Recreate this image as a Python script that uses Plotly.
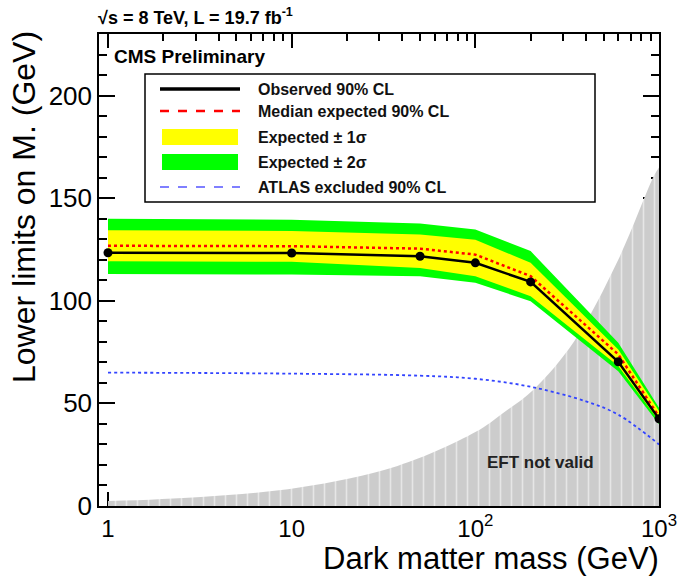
import plotly.graph_objects as go

# ---------------- data ----------------
mass = [1, 10, 50, 100, 200, 600, 1000]
observed = [123.4, 123.3, 121.7, 118.5, 109.2, 70.3, 42.5]
expected = [126.8, 126.6, 125.4, 122.5, 112.0, 73.9, 43.5]
exp_1s_up = [134.4, 134.0, 132.3, 129.8, 118.5, 76.3, 46.3]
exp_1s_down = [119.3, 119.0, 116.0, 112.0, 102.2, 68.2, 41.4]
exp_2s_up = [140.0, 139.5, 137.6, 134.7, 124.2, 79.5, 47.9]
exp_2s_down = [113.1, 112.8, 112.0, 108.8, 99.8, 65.7, 39.8]

atlas_mass = [1, 10, 50, 100, 200, 400, 600, 1000]
atlas_limit = [65.0, 64.5, 63.5, 62.0, 58.1, 51.0, 44.5, 30.0]

eft_mass = [1, 3.2, 11, 37.7, 100, 143, 208, 344, 600, 940, 1000]
eft_limit = [2.4, 4.4, 9.0, 19.5, 36.0, 45.6, 56.8, 80.0, 120.0, 161.0, 165.0]

x_tickvals = [1, 10, 100, 1000]
x_ticktext = ["1", "10", "10<sup>2</sup>", "10<sup>3</sup>"]
x_minor = [d * k for d in (1, 10, 100) for k in range(2, 10)]

legend_labels = ["Observed 90% CL", "Median expected 90% CL",
                 "Expected \u00b1 1\u03c3", "Expected \u00b1 2\u03c3",
                 "ATLAS excluded 90% CL"]

FONT = "Liberation Sans, Arial, sans-serif"

fig = go.Figure()

# EFT not valid region (hatched grey)
fig.add_trace(go.Scatter(
    x=eft_mass, y=eft_limit, mode="lines", line=dict(width=0, shape="spline"),
    fill="tozeroy", fillcolor="#cccccc",
    fillpattern=dict(shape="|", bgcolor="#cccccc", fgcolor="white",
                     size=11, solidity=0.15),
    showlegend=False, hoverinfo="skip"))

# 2 sigma band
fig.add_trace(go.Scatter(
    x=mass + mass[::-1], y=exp_2s_up + exp_2s_down[::-1],
    mode="lines", line=dict(width=0), fill="toself", fillcolor="#00ff00",
    showlegend=False, hoverinfo="skip"))
# 1 sigma band
fig.add_trace(go.Scatter(
    x=mass + mass[::-1], y=exp_1s_up + exp_1s_down[::-1],
    mode="lines", line=dict(width=0), fill="toself", fillcolor="#ffff00",
    showlegend=False, hoverinfo="skip"))

# ATLAS
fig.add_trace(go.Scatter(
    x=atlas_mass, y=atlas_limit, mode="lines",
    line=dict(color="#3344ff", width=1.8, dash="dot", shape="spline"),
    showlegend=False))

# expected
fig.add_trace(go.Scatter(
    x=mass, y=expected, mode="lines",
    line=dict(color="#ff0000", width=2.5, dash="dot"),
    showlegend=False))

# observed
fig.add_trace(go.Scatter(
    x=mass, y=observed, mode="lines+markers",
    line=dict(color="black", width=2.5),
    marker=dict(color="black", size=9),
    showlegend=False))

# ---------------- layout ----------------
L, R, T, B = 99, 21, 34, 71
W, H = 680, 577
pw, ph = W - L - R, H - T - B


def px(xp):
    return (xp - L) / pw


def py(yp):
    return (H - B - yp) / ph


fig.update_layout(
    width=W, height=H,
    margin=dict(l=L, r=R, t=T, b=B, autoexpand=False),
    paper_bgcolor="white", plot_bgcolor="white",
    font=dict(family=FONT, color="black"),
    xaxis=dict(
        type="log", range=[-0.049, 3.0], automargin=False,
        tickmode="array", tickvals=x_tickvals, ticktext=x_ticktext,
        ticks="inside", ticklen=14, tickwidth=1.5, tickcolor="black",
        showline=True, linecolor="black", linewidth=1.5, mirror="allticks",
        showgrid=False, zeroline=False,
        tickfont=dict(size=24, family=FONT),
        minor=dict(tickmode="array", tickvals=x_minor, ticks="inside",
                   ticklen=7, tickwidth=1.5, tickcolor="black", showgrid=False),
        layer="below traces",
    ),
    yaxis=dict(
        range=[0, 230], tickmode="linear", tick0=0, dtick=50, automargin=False,
        ticks="inside", ticklen=16, tickwidth=1.5, tickcolor="black",
        showline=True, linecolor="black", linewidth=1.5, mirror="allticks",
        showgrid=False, zeroline=False,
        tickfont=dict(size=26, family=FONT),
        minor=dict(dtick=10, ticks="inside", ticklen=8, tickwidth=1.5,
                   tickcolor="black", showgrid=False),
        layer="below traces",
    ),
)

annotations = [
    dict(text="<b>\u221as = 8 TeV, L = 19.7 fb<sup>-1</sup></b>", x=px(96), y=py(16),
         xanchor="left", yanchor="middle", font=dict(size=18, family=FONT)),
    dict(text="<b>CMS Preliminary</b>", x=px(112), y=py(57),
         xanchor="left", yanchor="middle", font=dict(size=19, family=FONT)),
    dict(text="<b>EFT not valid</b>", x=px(485), y=py(462),
         xanchor="left", yanchor="middle", font=dict(size=17, family=FONT,
                                                       color="#222222")),
    dict(text="Dark matter mass (GeV)", x=px(661), y=py(558),
         xanchor="right", yanchor="middle", font=dict(size=31, family=FONT)),
    dict(text="Lower limits on M. (GeV)", x=px(24), y=py(29), textangle=-90,
         xanchor="center", yanchor="top", font=dict(size=32, family=FONT)),
]

# manual legend
shapes = [dict(type="rect", xref="paper", yref="paper",
               x0=px(145), x1=px(595), y0=py(202), y1=py(74),
               line=dict(color="black", width=1.5), fillcolor="white", layer="above")]
rows = [89, 111, 137, 162, 187]
sx0, sx1 = px(160), px(240)
shapes.append(dict(type="line", xref="paper", yref="paper", x0=sx0, x1=sx1,
                   y0=py(rows[0]), y1=py(rows[0]), line=dict(color="black", width=3.5)))
shapes.append(dict(type="line", xref="paper", yref="paper", x0=sx0, x1=sx1,
                   y0=py(rows[1]), y1=py(rows[1]),
                   line=dict(color="#ff0000", width=2.5, dash="dash")))
shapes.append(dict(type="rect", xref="paper", yref="paper", x0=px(162), x1=px(238),
                   y0=py(rows[2] + 8), y1=py(rows[2] - 8), line=dict(width=0),
                   fillcolor="#ffff00"))
shapes.append(dict(type="rect", xref="paper", yref="paper", x0=px(162), x1=px(238),
                   y0=py(rows[3] + 8), y1=py(rows[3] - 8), line=dict(width=0),
                   fillcolor="#00ff00"))
shapes.append(dict(type="line", xref="paper", yref="paper", x0=sx0, x1=sx1,
                   y0=py(rows[4]), y1=py(rows[4]),
                   line=dict(color="#0000ff", width=1.2, dash="dash")))
for lab, r in zip(legend_labels, rows):
    annotations.append(dict(text="<b>" + lab + "</b>", x=px(256), y=py(r),
                            xanchor="left", yanchor="middle",
                            font=dict(size=16, family=FONT, color="#111111")))

for a in annotations:
    a.update(xref="paper", yref="paper", showarrow=False)

fig.update_layout(annotations=annotations, shapes=shapes)

fig.write_html("out.html")
